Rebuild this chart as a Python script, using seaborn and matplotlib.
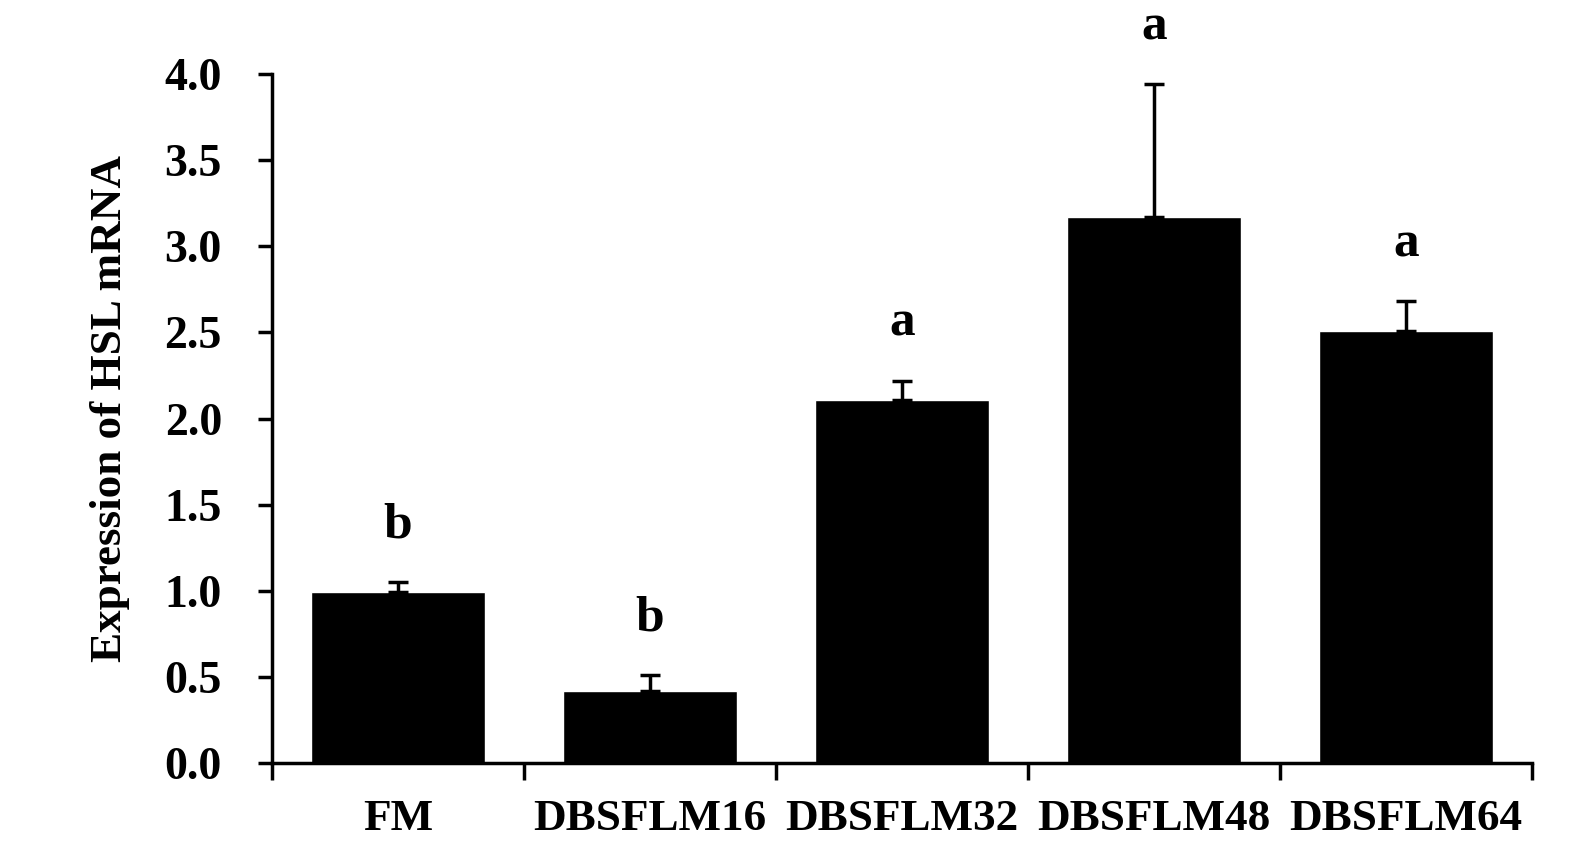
import seaborn as sns
import matplotlib.pyplot as plt
import pandas as pd
import numpy as np

# Relative HSL mRNA expression per diet group
groups = ['FM', 'DBSFLM16', 'DBSFLM32', 'DBSFLM48', 'DBSFLM64']
expression = [0.99, 0.42, 2.11, 3.17, 2.51]
sem = [0.06, 0.09, 0.11, 0.77, 0.17]
letters = ['b', 'b', 'a', 'a', 'a']
yticks = [0.0, 0.5, 1.0, 1.5, 2.0, 2.5, 3.0, 3.5, 4.0]

df = pd.DataFrame({'Group': groups, 'Expression': expression, 'SEM': sem})

sns.set_style('ticks', {'axes.edgecolor': 'black', 'text.color': 'black',
                        'xtick.color': 'black', 'ytick.color': 'black',
                        'axes.labelcolor': 'black'})
plt.rcParams['font.family'] = ['Liberation Serif', 'DejaVu Serif']
plt.rcParams['font.weight'] = 'bold'

fig, ax = plt.subplots(figsize=(15.7, 8.51), dpi=100)
fig.subplots_adjust(left=0.1732, right=0.9758, bottom=0.1034, top=0.913)

sns.barplot(data=df, x='Group', y='Expression', color='black',
            width=0.69, errorbar=None, saturation=1, ax=ax)

# one-sided (upper) error bars
x = np.arange(len(groups))
ax.errorbar(x, df['Expression'], yerr=[np.zeros(len(groups)), df['SEM']],
            fmt='none', ecolor='black', elinewidth=2.5, capsize=7,
            capthick=2.5, zorder=3)

# significance letters above the error bars
for i, (v, e, lab) in enumerate(zip(expression, sem, letters)):
    ax.text(i, v + e + 0.33, lab, ha='center', va='center',
            fontsize=37, fontweight='bold', color='black', clip_on=False)

ax.set_ylim(0, 4.0)
ax.set_xlim(-0.5, len(groups) - 0.5)
ax.set_yticks(yticks)
ax.set_yticklabels([f'{t:.1f}' for t in yticks], fontsize=33, fontweight='bold')
ax.set_xticks(x)
ax.set_xticklabels(groups, fontsize=32.5, fontweight='bold')
ax.set_xticks(np.arange(-0.5, len(groups)), minor=True)

ax.tick_params(axis='y', direction='out', length=10, width=2.5, pad=26)
ax.tick_params(axis='x', which='major', length=0, pad=26)
ax.tick_params(axis='x', which='minor', direction='out', length=12, width=2.5)

ax.set_xlabel('')
ax.set_ylabel('Expression of HSL mRNA', fontsize=32.5, fontweight='bold')
ax.yaxis.set_label_coords(-0.113, 0.515)

for side in ['top', 'right']:
    ax.spines[side].set_visible(False)
for side in ['left', 'bottom']:
    ax.spines[side].set_linewidth(2.5)

plt.savefig('out.png', dpi=100)
plt.close()
